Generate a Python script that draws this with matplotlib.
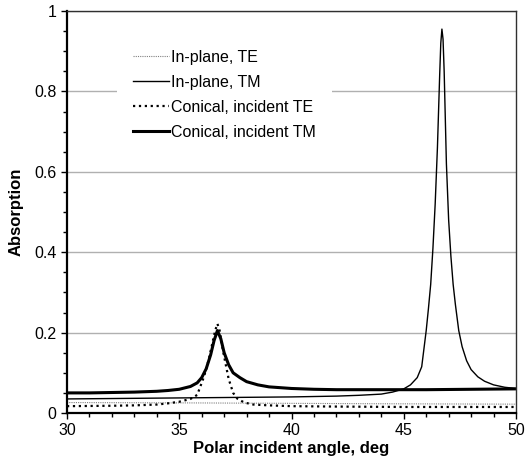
import numpy as np
from matplotlib import pyplot as plt
from matplotlib.ticker import MultipleLocator, FuncFormatter

# In-plane, TE (nearly flat)
te_in_x = [30, 33, 36, 40, 44, 47, 50]
te_in_y = [0.026, 0.0255, 0.025, 0.024, 0.023, 0.0225, 0.022]

# In-plane, TM (sharp resonance near 46.7 deg)
tm_in_x = [30, 32, 34, 36, 38, 40, 42, 43, 44, 44.5, 45, 45.3, 45.6, 45.8, 46.0, 46.1, 46.2,
           46.3, 46.4, 46.5, 46.6, 46.65, 46.7, 46.75, 46.8, 46.9, 47.0, 47.1, 47.2, 47.3,
           47.45, 47.6, 47.8, 48.0, 48.3, 48.6, 49.0, 49.5, 50]
tm_in_y = [0.035, 0.036, 0.037, 0.038, 0.039, 0.040, 0.042, 0.044, 0.047, 0.052, 0.060, 0.070,
           0.088, 0.115, 0.205, 0.26, 0.32, 0.41, 0.52, 0.66, 0.84, 0.92, 0.955, 0.93, 0.85,
           0.62, 0.48, 0.39, 0.32, 0.27, 0.205, 0.165, 0.13, 0.108, 0.09, 0.079, 0.070,
           0.064, 0.061]

# Conical, incident TE
te_con_x = [30, 32, 33, 34, 34.5, 35, 35.5, 35.8, 35.9, 36.1, 36.3, 36.5, 36.6, 36.7, 36.8,
            36.9, 37.0, 37.2, 37.4, 37.6, 37.9, 38.3, 39, 40, 42, 45, 48, 50]
te_con_y = [0.017, 0.018, 0.019, 0.021, 0.024, 0.028, 0.035, 0.045, 0.060, 0.090, 0.130,
            0.180, 0.205, 0.222, 0.205, 0.170, 0.140, 0.085, 0.050, 0.035, 0.026, 0.021,
            0.019, 0.017, 0.016, 0.015, 0.015, 0.015]

# Conical, incident TM
tm_con_x = [30, 31, 32, 33, 34, 34.5, 35, 35.5, 35.8, 36.0, 36.2, 36.4, 36.55, 36.7, 36.85,
            37.0, 37.2, 37.4, 37.7, 38, 38.5, 39, 40, 41, 42, 44, 46, 48, 50]
tm_con_y = [0.050, 0.050, 0.051, 0.052, 0.054, 0.056, 0.059, 0.066, 0.075, 0.088, 0.110,
            0.145, 0.180, 0.205, 0.185, 0.150, 0.120, 0.100, 0.088, 0.078, 0.070, 0.065,
            0.061, 0.059, 0.058, 0.058, 0.058, 0.059, 0.060]

plt.rcParams['font.family'] = ['Liberation Sans', 'DejaVu Sans']

fig = plt.figure(figsize=(5.25, 4.74), dpi=100)
ax = fig.add_axes([67/525, 1-413/474, 449/525, 402/474])

ax.plot(te_in_x, te_in_y, color='#808080', lw=0.8, linestyle=(0, (1, 1)), label='In-plane, TE')
ax.plot(tm_in_x, tm_in_y, color='black', lw=1.0, label='In-plane, TM')
ax.plot(te_con_x, te_con_y, color='black', lw=1.6, linestyle=':', label='Conical, incident TE')
ax.plot(tm_con_x, tm_con_y, color='black', lw=2.2, label='Conical, incident TM')

ax.set_xlim(30, 50)
ax.set_ylim(0, 1)
ax.xaxis.set_major_locator(MultipleLocator(5))
ax.xaxis.set_minor_locator(MultipleLocator(1))
ax.yaxis.set_major_locator(MultipleLocator(0.2))
ax.yaxis.set_minor_locator(MultipleLocator(0.05))
ax.yaxis.set_major_formatter(FuncFormatter(lambda v, p: '%g' % round(v, 2)))
ax.tick_params(which='both', direction='out', labelsize=11.5, color='black')
ax.tick_params(which='major', length=4, width=1)
ax.tick_params(which='minor', length=3, width=1)

ax.grid(axis='y', which='major', color='#b0b0b0', lw=1)
ax.set_axisbelow(True)
for s in ['left', 'bottom']:
    ax.spines[s].set_linewidth(1.6)
for s in ['top', 'right']:
    ax.spines[s].set_linewidth(1.0)
    ax.spines[s].set_color('#303030')

ax.set_xlabel('Polar incident angle, deg', fontsize=12, fontweight='bold', labelpad=2)
ax.set_ylabel('Absorption', fontsize=12, fontweight='bold', labelpad=8)

leg = ax.legend(loc='upper left', bbox_to_anchor=(0.111, 0.9425), borderaxespad=0,
                frameon=True, fancybox=False, edgecolor='none', facecolor='white',
                framealpha=1, fontsize=11.5, handlelength=2.25, handletextpad=0.15,
                labelspacing=0.62, borderpad=1.0)

plt.savefig('out.png', dpi=100)
